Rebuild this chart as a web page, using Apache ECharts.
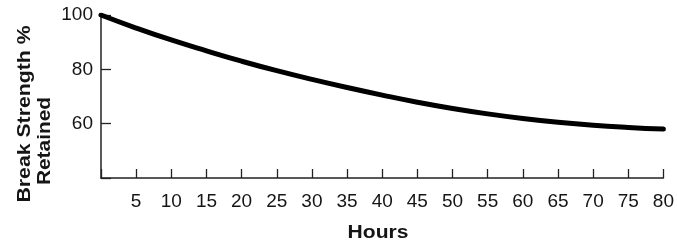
<!DOCTYPE html>
<html>
<head>
<meta charset="utf-8">
<script src="https://cdn.jsdelivr.net/npm/echarts@6/dist/echarts.min.js"></script>
<style>
html,body{margin:0;padding:0;background:#fff;}
#c{width:677px;height:248px;}
</style>
</head>
<body>
<div id="c"></div>
<script>
var hours = [0, 5, 10, 15, 20, 25, 30, 35, 40, 45, 50, 55, 60, 65, 70, 75, 80];
var retained = [100, 95.2, 90.8, 86.8, 83.0, 79.5, 76.3, 73.3, 70.5, 67.9, 65.6, 63.6, 61.9, 60.5, 59.4, 58.6, 58.0];
var xTitle = 'Hours';
var yTitleLine1 = 'Break Strength %';
var yTitleLine2 = 'Retained';

var chart = echarts.init(document.getElementById('c'), null, {renderer: 'canvas'});
var font = 'Liberation Sans, Arial, Helvetica, sans-serif';
var ink = '#151515';
chart.setOption({
  animation: false,
  backgroundColor: '#fff',
  grid: {left: 101, right: 12, top: 15, bottom: 70, containLabel: false},
  xAxis: {
    type: 'value', min: 0, max: 80, interval: 5,
    axisLine: {lineStyle: {color: '#222', width: 1.5}},
    axisTick: {inside: true, length: 9, lineStyle: {color: '#222', width: 1.3}},
    axisLabel: {
      margin: 14, fontSize: 19, color: ink, fontFamily: font,
      formatter: function (v) { return v === 0 ? '' : String(v); }
    },
    splitLine: {show: false}
  },
  yAxis: {
    type: 'value', min: 40, max: 100, interval: 20,
    axisLine: {show: true, lineStyle: {color: '#222', width: 1.5}},
    axisTick: {show: true, inside: true, length: 10, lineStyle: {color: '#222', width: 1.3}},
    axisLabel: {
      margin: 8, fontSize: 19, color: ink, fontFamily: font,
      formatter: function (v) { return v === 40 ? '' : String(v); }
    },
    splitLine: {show: false}
  },
  graphic: [
    {type: 'text', left: 'center', x: 0, style: {}, invisible: true},
    {
      type: 'text', x: 378, y: 233, scaleX: 1.17,
      style: {text: xTitle, font: 'bold 18px ' + font, fill: ink, align: 'center', verticalAlign: 'middle'}
    },
    {
      type: 'text', x: 25, y: 114, rotation: Math.PI / 2, scaleX: 1.18,
      style: {text: yTitleLine1, font: 'bold 18px ' + font, fill: ink, align: 'center', verticalAlign: 'middle'}
    },
    {
      type: 'text', x: 45.5, y: 141, rotation: Math.PI / 2, scaleX: 1.16,
      style: {text: yTitleLine2, font: 'bold 18px ' + font, fill: ink, align: 'center', verticalAlign: 'middle'}
    }
  ],
  series: [{
    type: 'line',
    data: hours.map(function (h, i) { return [h, retained[i]]; }),
    smooth: true,
    showSymbol: false,
    lineStyle: {color: '#000', width: 5, cap: 'round'}
  }]
});
</script>
</body>
</html>
